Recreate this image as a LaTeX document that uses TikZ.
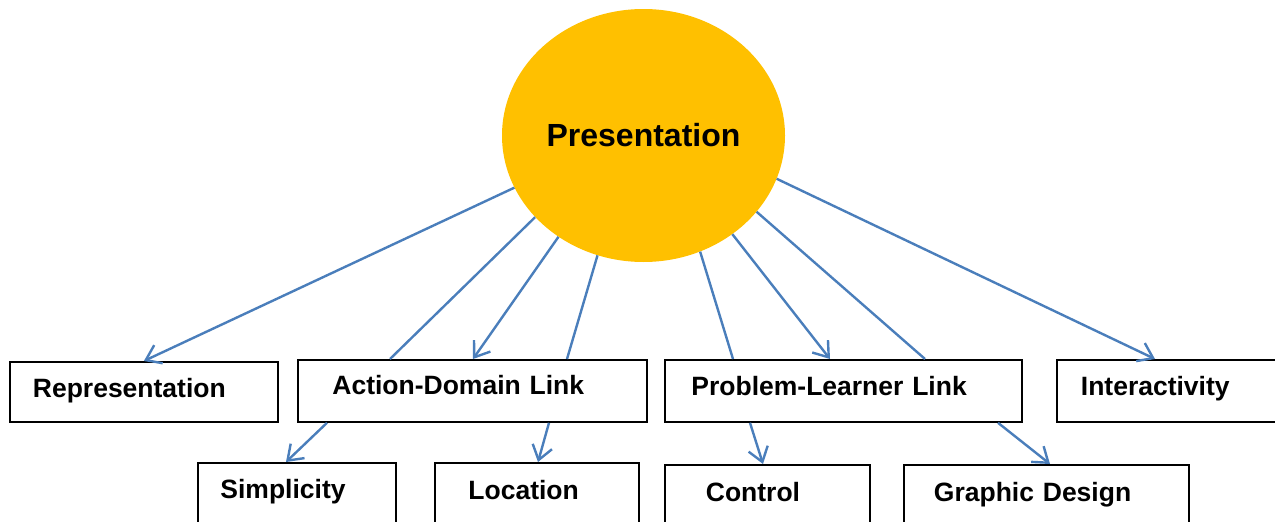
\documentclass[tikz,border=0pt]{standalone}
\usepackage{fontspec}
\setmainfont{Liberation Sans}
\usetikzlibrary{arrows.meta,shapes.geometric}
\definecolor{sunfill}{HTML}{FFC000}
\definecolor{linkblue}{HTML}{4A7EBB}
\tikzset{
  % labelled rectangle: #1 width, #2 left indent of the text, #3 height above baseline, #4 depth below baseline
  tbox/.style n args={4}{draw=black, line width=1.8pt, anchor=north west,
    inner xsep=0pt, inner ysep=0pt, text width=#1, align=left,
    text height=#3, text depth=#4,
    font=\bfseries\fontsize{26.5}{30}\selectfont,
    execute at begin node={\hspace*{#2}}},
  link/.style={draw=linkblue, line width=2.4pt},
  arr/.style={link, -{Straight Barb[length=14pt,width=20pt]}},
}
\begin{document}
\begin{tikzpicture}[x=1pt,y=-1pt]
\useasboundingbox (0,0) rectangle (1275,522);
\clip (0,0) rectangle (1275,522);

% central topic
\node[ellipse, fill=sunfill, minimum width=283pt, minimum height=253pt, inner sep=0pt,
      font=\bfseries\fontsize{32}{36}\selectfont] (P) at (643.5,135.5) {Presentation};

% first row
\node[tbox={268pt}{23pt}{36pt}{24pt}]   (rep)  at (9,361)    {Representation};
\node[tbox={349pt}{34.5pt}{35pt}{27pt}] (adl)  at (297,359)  {Action-Domain Link};
\node[tbox={357pt}{26.5pt}{36pt}{26pt}] (pll)  at (664,359)  {Problem-Learner Link};
\node[tbox={260pt}{24pt}{36pt}{26pt}]   (intr) at (1056,359) {Interactivity};

% second row
\node[tbox={198pt}{22.5pt}{36pt}{30pt}] (simp) at (197,462) {Simplicity};
\node[tbox={204pt}{33.5pt}{36.5pt}{30pt}] (loc) at (434,462) {Location};
\node[tbox={205pt}{41pt}{36.5pt}{30pt}] (ctrl) at (664,464) {Control};
\node[tbox={285pt}{30pt}{36.5pt}{30pt}] (gd)   at (903,464) {Graphic Design};

% spokes from the central topic
\draw[arr]  (P.202) -- (rep.north);
\draw[link] (P.217) -- ([xshift=93pt]adl.north west);
\draw[arr]  (P.230) -- ([xshift=176pt]adl.north west);
\draw[link] (P.249) -- ([xshift=270pt]adl.north west);
\draw[link] (P.296) -- ([xshift=69pt]pll.north west);
\draw[arr]  (P.312) -- ([xshift=166pt]pll.north west);
\draw[link] (P.326) -- ([xshift=261pt]pll.north west);
\draw[arr]  (P.342) -- ([xshift=99pt]intr.north west);

% second-level links
\draw[arr] ([xshift=30pt]adl.south west)  -- ([xshift=89pt]simp.north west);
\draw[arr] ([xshift=252pt]adl.south west) -- ([xshift=104pt]loc.north west);
\draw[arr] ([xshift=86pt]pll.south west)  -- ([xshift=99pt]ctrl.north west);
\draw[arr] ([xshift=334pt]pll.south west) -- ([xshift=147pt]gd.north west);
\end{tikzpicture}
\end{document}
